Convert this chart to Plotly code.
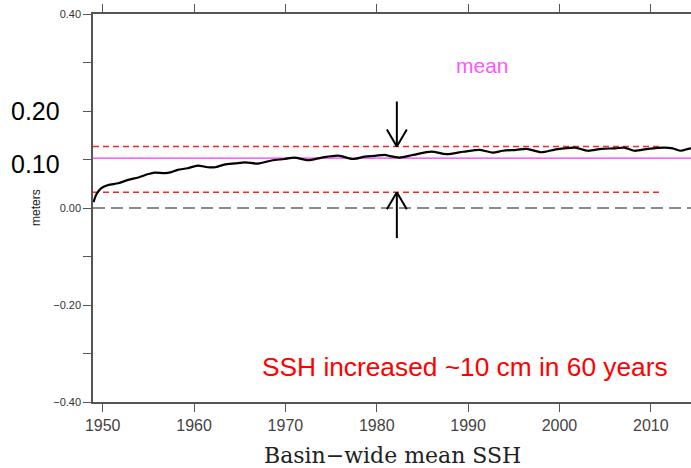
import plotly.graph_objects as go

# ---- data ----
years = [1949.0, 1949.3, 1949.85, 1950.6, 1951.7, 1952.8, 1953.9, 1955.0, 1955.7, 1956.8,
         1957.5, 1958.2, 1959.3, 1960.4, 1961.5, 1962.3, 1963.3, 1964.5, 1965.6, 1967.0,
         1968.5, 1969.9, 1971.0, 1972.5, 1974.0, 1975.8, 1977.4, 1978.7, 1979.8, 1980.9,
         1981.4, 1982.5, 1984.0, 1986.0, 1987.6, 1989.5, 1991.3, 1992.7, 1993.8, 1995.3,
         1996.4, 1998.0, 1999.5, 2001.7, 2003.1, 2004.6, 2006.1, 2007.1, 2008.2, 2009.7,
         2011.5, 2012.4, 2013.3, 2014.1, 2014.5]
ssh = [0.012, 0.028, 0.041, 0.0475, 0.051, 0.058, 0.063, 0.070, 0.073, 0.072,
       0.074, 0.0785, 0.082, 0.0875, 0.084, 0.084, 0.0895, 0.092, 0.094, 0.0916,
       0.098, 0.101, 0.104, 0.0985, 0.104, 0.108, 0.101, 0.106, 0.1075, 0.1095,
       0.107, 0.104, 0.1095, 0.1164, 0.111, 0.116, 0.120, 0.114, 0.118, 0.120,
       0.122, 0.115, 0.1205, 0.1246, 0.118, 0.122, 0.123, 0.1246, 0.118, 0.122,
       0.1246, 0.123, 0.118, 0.122, 0.123]

mean_value = 0.1027
upper_ref = 0.127
lower_ref = 0.0324
ref_end_year = 2011.0
arrow_year = 1982.2
arrow_down_top = 0.2196
arrow_up_bottom = -0.062

x_range = [1948.94, 2014.4]
y_tickvals = [0.4, 0.3, 0.2, 0.1, 0.0, -0.1, -0.2, -0.3, -0.4]
y_ticktext = ["0.40", "", "", "", "0.00", "", "\u22120.20", "", "\u22120.40"]
x_tickvals = [1950, 1960, 1970, 1980, 1990, 2000, 2010]

fig = go.Figure()

fig.add_trace(go.Scatter(x=years, y=ssh, mode="lines",
                         line=dict(color="black", width=2.2, shape="spline", smoothing=0.8),
                         showlegend=False, hoverinfo="skip"))

shapes = []
# zero line
shapes.append(dict(type="line", xref="x", yref="y", x0=x_range[0], x1=x_range[1], y0=0, y1=0,
                   line=dict(color="#666666", width=1.6, dash="12px,6px"), layer="below"))
# mean line
shapes.append(dict(type="line", xref="x", yref="y", x0=x_range[0], x1=x_range[1],
                   y0=mean_value, y1=mean_value, line=dict(color="#ff33ff", width=1.3), layer="below"))
# red reference lines
for v in (upper_ref, lower_ref):
    shapes.append(dict(type="line", xref="x", yref="y", x0=x_range[0], x1=ref_end_year,
                       y0=v, y1=v, line=dict(color="#ff2222", width=1.5, dash="6px,4px"), layer="below"))

# arrows (open V heads)
hw = 1.09   # half width in years
hl = 0.035  # head length in data units
arrow_line = dict(color="black", width=2)
# down arrow
shapes.append(dict(type="line", x0=arrow_year, x1=arrow_year, y0=arrow_down_top, y1=upper_ref, line=arrow_line))
shapes.append(dict(type="line", x0=arrow_year - hw, x1=arrow_year, y0=upper_ref + hl, y1=upper_ref, line=arrow_line))
shapes.append(dict(type="line", x0=arrow_year + hw, x1=arrow_year, y0=upper_ref + hl, y1=upper_ref, line=arrow_line))
# up arrow
shapes.append(dict(type="line", x0=arrow_year, x1=arrow_year, y0=arrow_up_bottom, y1=lower_ref, line=arrow_line))
shapes.append(dict(type="line", x0=arrow_year - hw, x1=arrow_year, y0=lower_ref - hl, y1=lower_ref, line=arrow_line))
shapes.append(dict(type="line", x0=arrow_year + hw, x1=arrow_year, y0=lower_ref - hl, y1=lower_ref, line=arrow_line))

annotations = [
    dict(text="0.20", xref="paper", yref="y", x=0, y=0.2, xanchor="right", yanchor="middle",
         xshift=-31, showarrow=False, font=dict(family="Liberation Sans, Arial", size=25, color="black")),
    dict(text="0.10", xref="paper", yref="y", x=0, y=0.1, xanchor="right", yanchor="middle",
         xshift=-31, yshift=-4, showarrow=False, font=dict(family="Liberation Sans, Arial", size=25, color="black")),
    dict(text="meters", xref="paper", yref="y", x=-0.0953, y=0.0, textangle=-90, showarrow=False,
         xanchor="center", yanchor="middle", font=dict(family="Liberation Sans, Arial", size=12, color="#222")),
    dict(text="mean", xref="x", yref="y", x=1991.55, y=0.294, showarrow=False,
         font=dict(family="Liberation Sans, Arial", size=21, color="#ff55ff")),
    dict(text="SSH increased ~10 cm in 60 years", xref="x", yref="y", x=1989.64, y=-0.328,
         showarrow=False, font=dict(family="Liberation Sans, Arial", size=26.3, color="#ff0000")),
    dict(text="Basin\u2212wide mean SSH", xref="paper", yref="paper", x=0.5, y=-0.1377,
         xanchor="center", yanchor="middle", showarrow=False,
         font=dict(family="DejaVu Serif", size=22, color="#222")),
]

fig.update_layout(
    width=691, height=468,
    margin=dict(l=93, r=0, t=14, b=66),
    paper_bgcolor="white", plot_bgcolor="white",
    shapes=shapes, annotations=annotations,
    xaxis=dict(range=x_range, tickvals=x_tickvals, ticks="outside", ticklen=8, tickwidth=1.3,
               tickcolor="#555", showline=True, linecolor="#555", linewidth=1.5, mirror="ticks",
               showgrid=False, zeroline=False,
               tickfont=dict(family="Liberation Sans, Arial", size=16, color="#444")),
    yaxis=dict(range=[-0.4, 0.4], tickvals=y_tickvals, ticktext=y_ticktext, ticks="outside",
               ticklen=8, tickwidth=1.3, tickcolor="#555", showline=True, linecolor="#555",
               linewidth=1.5, showgrid=False, zeroline=False,
               tickfont=dict(family="Liberation Sans, Arial", size=11, color="#333")),
)

fig.write_html("out.html", config={"displayModeBar": False},
               post_script="document.body.style.margin='0';document.body.style.overflow='hidden';")
